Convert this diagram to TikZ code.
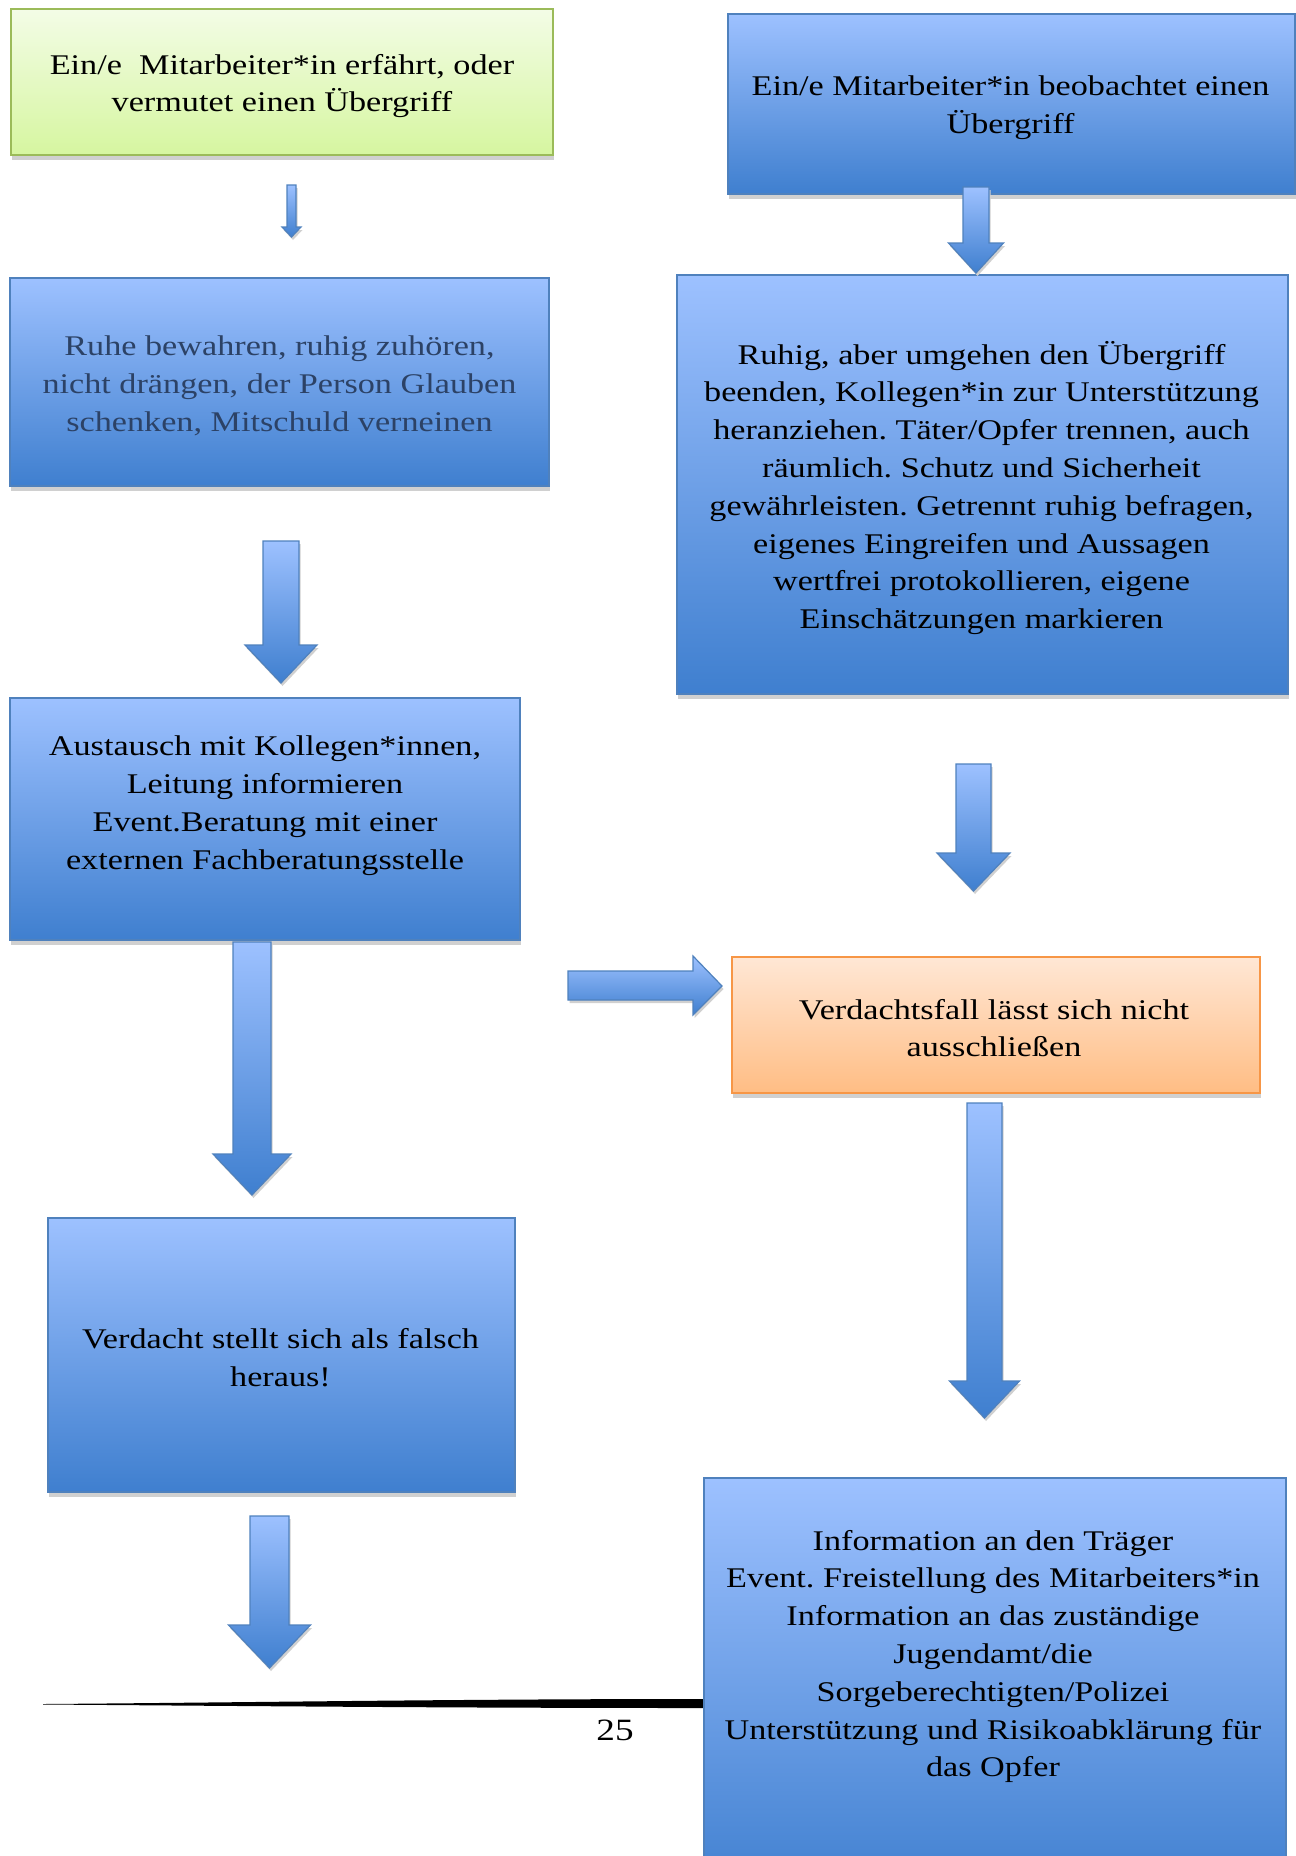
\documentclass[tikz,border=0pt]{standalone}
\usepackage{fontspec}
\setmainfont{Liberation Serif}[FakeStretch=1.2]
\usetikzlibrary{shadows}
\frenchspacing
\definecolor{bluetop}{HTML}{9DC1FF}
\definecolor{bluemid}{HTML}{7EA8EE}
\definecolor{bluebot}{HTML}{3F7FCF}
\definecolor{blueedge}{HTML}{4F81BD}
\definecolor{greentop}{HTML}{F3FCE6}
\definecolor{greenbot}{HTML}{D6F6A0}
\definecolor{greenedge}{HTML}{9BBB59}
\definecolor{orangetop}{HTML}{FFE7D5}
\definecolor{orangebot}{HTML}{FFBD84}
\definecolor{orangeedge}{HTML}{F79646}
\definecolor{shadowgray}{HTML}{D0D0D0}
\definecolor{slatetext}{HTML}{2C4266}
\tikzset{
  boxbase/.style={rectangle, inner sep=0pt, line width=1.8pt,
    drop shadow={shadow xshift=1pt, shadow yshift=-4.5pt, fill=shadowgray, opacity=1}},
  bluebox/.style={boxbase, draw=blueedge, top color=bluetop, middle color=bluemid, bottom color=bluebot},
  greenbox/.style={boxbase, draw=greenedge, top color=greentop, bottom color=greenbot},
  orangebox/.style={boxbase, draw=orangeedge, top color=orangetop, bottom color=orangebot},
  boxtext/.style={align=center, inner sep=0pt, font=\fontsize{28.5}{37.8}\selectfont},
  blockarrow/.style={draw=blueedge, line width=1.2pt, line join=miter,
    top color=bluetop, middle color=bluemid, bottom color=bluebot,
    drop shadow={shadow xshift=1.5pt, shadow yshift=-3pt, fill=shadowgray, opacity=1}}
}
\newcommand{\blockdown}[6]{%
  \draw[blockarrow] ({#1-#5/2},#2) -- ({#1+#5/2},#2) -- ({#1+#5/2},#3) -- ({#1+#6/2},#3)
    -- (#1,#4) -- ({#1-#6/2},#3) -- ({#1-#5/2},#3) -- cycle;}
\begin{document}
\begin{tikzpicture}[x=1pt,y=-1pt]
\useasboundingbox (0,0) rectangle (1296,1856);

% boxes
\node[greenbox, minimum width=542pt, minimum height=146pt] (erfaehrt) at (282,82) {};
\node[boxtext] (erfaehrttext) at (282,86)
  {Ein/e~ Mitarbeiter*in erfährt, oder\\vermutet einen Übergriff};
\node[bluebox, minimum width=567pt, minimum height=180pt] (beobachtet) at (1011.5,104) {};
\node[boxtext] (beobachtettext) at (1010.5,107.5)
  {Ein/e Mitarbeiter*in beobachtet einen\\Übergriff};
\node[bluebox, minimum width=539pt, minimum height=208pt] (ruhe) at (279.5,382) {};
\node[boxtext, text=slatetext] (ruhetext) at (279.5,385.5)
  {Ruhe bewahren, ruhig zuhören,\\nicht drängen, der Person Glauben\\schenken, Mitschuld verneinen};
\node[bluebox, minimum width=611pt, minimum height=419pt] (ruhig) at (982.5,484.5) {};
\node[boxtext] (ruhigtext) at (981.5,488)
  {Ruhig, aber umgehen den Übergriff\\beenden, Kollegen*in zur Unterstützung\\heranziehen. Täter/Opfer trennen, auch\\räumlich. Schutz und Sicherheit\\gewährleisten. Getrennt ruhig befragen,\\eigenes Eingreifen und Aussagen\\wertfrei protokollieren, eigene\\Einschätzungen markieren};
\node[bluebox, minimum width=510pt, minimum height=242pt] (austausch) at (265,819) {};
\node[boxtext] (austauschtext) at (265,805.5)
  {Austausch mit Kollegen*innen,\\Leitung informieren\\Event.Beratung mit einer\\externen Fachberatungsstelle};
\node[orangebox, minimum width=528pt, minimum height=136pt] (verdachtsfall) at (996,1025) {};
\node[boxtext] (verdachtsfalltext) at (994,1028)
  {Verdachtsfall lässt sich nicht\\ausschließen};
\node[bluebox, minimum width=467pt, minimum height=274pt] (falsch) at (281.5,1355) {};
\node[boxtext] (falschtext) at (280.5,1357.5)
  {Verdacht stellt sich als falsch\\heraus!};

% footer line and page number
\fill[black] (43,1704) .. controls (250,1702.5) and (450,1699) .. (704,1699)
  -- (704,1708) .. controls (450,1708) and (250,1706) .. (43,1704.5) -- cycle;
\node[font=\fontsize{31}{36}\selectfont, inner sep=0pt] (seitenzahl) at (615,1730) {25};

\node[bluebox, minimum width=582pt, minimum height=422pt] (information) at (995,1689) {};
\node[boxtext] (informationtext) at (993,1656.5)
  {Information an den Träger\\Event. Freistellung des Mitarbeiters*in\\Information an das zuständige\\Jugendamt/die\\Sorgeberechtigten/Polizei\\Unterstützung und Risikoabklärung für\\das Opfer};

% block arrows
\blockdown{291.5}{185}{227}{237}{9}{19}
\blockdown{976}{187}{243}{273}{26}{55}
\blockdown{281}{541}{645}{683}{36}{72}
\blockdown{973.5}{764}{853}{891}{35}{73}
\blockdown{252}{942}{1154}{1195}{38}{78}
\blockdown{984.5}{1103}{1381}{1418}{35}{70}
\blockdown{269.5}{1516}{1625}{1668}{39}{82}
\draw[blockarrow] (568,971) -- (693,971) -- (693,956) -- (722,986) -- (693,1015)
  -- (693,1000) -- (568,1000) -- cycle;
\end{tikzpicture}
\end{document}
